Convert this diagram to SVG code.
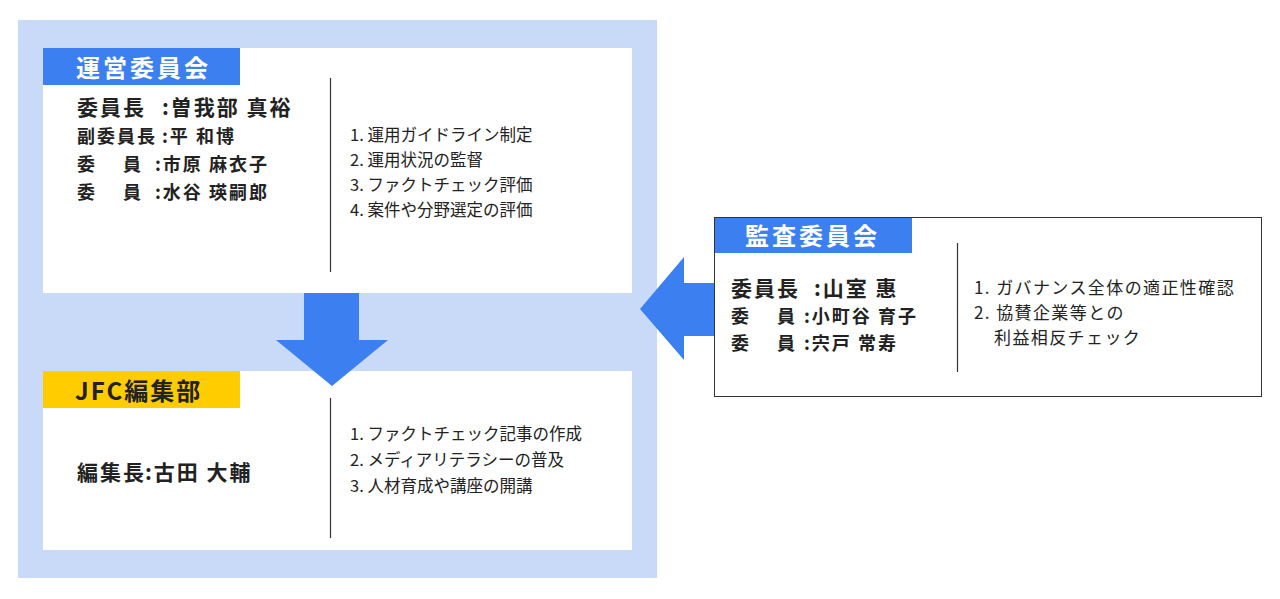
<svg xmlns="http://www.w3.org/2000/svg" width="1280" height="599" viewBox="0 0 1280 599">
<style>
text{font-family:"Noto Sans CJK JP","Noto Sans",sans-serif;fill:#222}
.lbl{font-size:24px;font-weight:bold;letter-spacing:3px}
.w{fill:#fff}
.m1{font-size:21px;font-weight:bold;letter-spacing:2px}
.m2{font-size:18px;font-weight:bold;letter-spacing:2px}
.li{font-size:16.5px}
.lr{font-size:17px;letter-spacing:1.4px}
.div{stroke:#333;stroke-width:1.2}
.blue{fill:#3c7ff0}
</style>
<rect width="1280" height="599" fill="#fff"/>
<rect x="18" y="20" width="639" height="558" fill="#c9daf8"/>
<g id="unei">
<rect x="43" y="48" width="589" height="245" fill="#fff"/>
<rect class="blue" x="43" y="48" width="197" height="37"/>
<text class="lbl w" x="76" y="77">運営委員会</text>
<text class="m1" y="115"><tspan x="77">委員長</tspan><tspan x="162">:曽我部 真裕</tspan></text>
<text class="m2" y="143"><tspan x="77">副委員長</tspan><tspan x="162">:平 和博</tspan></text>
<text class="m2" y="171"><tspan x="77">委</tspan><tspan x="123">員</tspan><tspan x="155">:市原 麻衣子</tspan></text>
<text class="m2" y="199"><tspan x="77">委</tspan><tspan x="123">員</tspan><tspan x="155">:水谷 瑛嗣郎</tspan></text>
<line class="div" x1="330.5" y1="78" x2="330.5" y2="272"/>
<text class="li" x="350" y="141">1. 運用ガイドライン制定</text>
<text class="li" x="350" y="166">2. 運用状況の監督</text>
<text class="li" x="350" y="191">3. ファクトチェック評価</text>
<text class="li" x="350" y="216">4. 案件や分野選定の評価</text>
</g>
<g id="jfc">
<rect x="43" y="371" width="589" height="179" fill="#fff"/>
<rect x="43" y="371" width="197" height="37" fill="#ffcc00"/>
<text class="lbl" x="75" y="400" style="letter-spacing:2px">JFC編集部</text>
<text class="m1" y="480"><tspan x="77">編集長</tspan><tspan x="145">:古田 大輔</tspan></text>
<line class="div" x1="330.5" y1="398" x2="330.5" y2="538"/>
<text class="li" x="350" y="440">1. ファクトチェック記事の作成</text>
<text class="li" x="350" y="466">2. メディアリテラシーの普及</text>
<text class="li" x="350" y="492">3. 人材育成や講座の開講</text>
</g>
<g id="kansa">
<rect x="714.5" y="217.5" width="547" height="179" fill="#fff" stroke="#333" stroke-width="1"/>
<rect class="blue" x="715" y="218" width="197" height="35"/>
<text class="lbl w" x="745" y="245">監査委員会</text>
<text class="m1" y="296"><tspan x="731">委員長</tspan><tspan x="814">:山室 惠</tspan></text>
<text class="m2" y="323"><tspan x="731">委</tspan><tspan x="777">員</tspan><tspan x="804">:小町谷 育子</tspan></text>
<text class="m2" y="350"><tspan x="731">委</tspan><tspan x="777">員</tspan><tspan x="804">:宍戸 常寿</tspan></text>
<line class="div" x1="957.5" y1="243" x2="957.5" y2="372"/>
<text class="lr" x="974" y="294">1. ガバナンス全体の適正性確認</text>
<text class="lr" x="974" y="319">2. 協賛企業等との</text>
<text class="lr" x="994" y="344">利益相反チェック</text>
</g>
<g id="connectors">
<polygon class="blue" points="304,293 359,293 359,340 388,340 332,386 276,340 304,340"/>
<polygon class="blue" points="714,283 684,283 684,257 640,309 684,360 684,336 714,336"/>
</g>
</svg>
